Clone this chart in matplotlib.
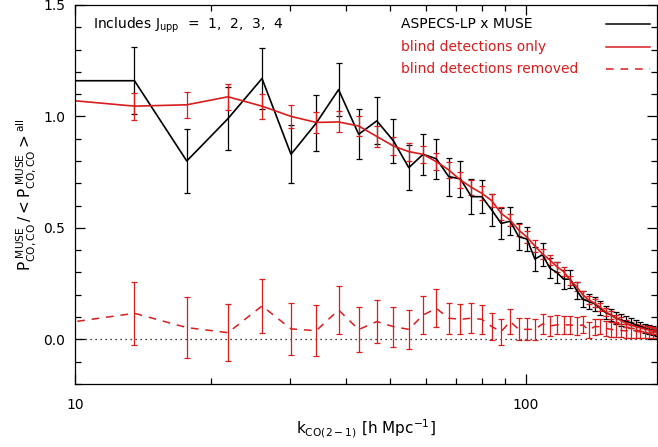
import numpy as np
import matplotlib
matplotlib.use("Agg")
import matplotlib.pyplot as plt
from matplotlib.ticker import FixedLocator, NullFormatter, MultipleLocator

plt.rcParams['font.family'] = ['DejaVu Sans']
plt.rcParams['mathtext.default'] = 'regular'

RED = '#d91c1c'

# wavenumber bins [h/Mpc]
k = [9.4, 13.55, 17.7, 21.85, 26.0, 30.15, 34.3, 38.45, 42.6, 46.75,
     50.9, 55.05, 59.2, 63.35, 67.5, 71.65, 75.8, 79.95, 84.1, 88.25,
     92.4, 96.55, 100.7, 104.85, 109.0, 113.15, 117.3, 121.45, 125.6, 129.75,
     133.9, 138.05, 142.2, 146.35, 150.5, 154.65, 158.8, 162.95, 167.1, 171.25,
     175.4, 179.55, 183.7, 187.85, 192.0, 196.15]

# ASPECS-LP x MUSE
p_all = [1.16, 1.16, 0.80, 0.99, 1.17, 0.83, 0.97, 1.12, 0.92, 0.98,
         0.89, 0.77, 0.83, 0.81, 0.73, 0.72, 0.64, 0.64, 0.58, 0.52,
         0.53, 0.46, 0.45, 0.36, 0.38, 0.32, 0.30, 0.27, 0.27, 0.22,
         0.18, 0.17, 0.16, 0.14, 0.12, 0.11, 0.095, 0.087, 0.08, 0.075,
         0.065, 0.057, 0.05, 0.045, 0.04, 0.035]
e_all = [0.15, 0.15, 0.145, 0.14, 0.135, 0.13, 0.125, 0.12, 0.112, 0.105,
         0.10, 0.10, 0.093, 0.09, 0.085, 0.082, 0.078, 0.075, 0.07, 0.068,
         0.063, 0.06, 0.055, 0.055, 0.05, 0.045, 0.045, 0.042, 0.04, 0.038,
         0.036, 0.034, 0.032, 0.03, 0.029, 0.028, 0.026, 0.025, 0.024, 0.023,
         0.022, 0.021, 0.02, 0.02, 0.019, 0.018]

# blind detections only
p_blind = [1.075, 1.046, 1.052, 1.088, 1.046, 1.0, 0.973, 0.975, 0.957, 0.91,
           0.867, 0.842, 0.83, 0.797, 0.76, 0.715, 0.682, 0.655, 0.622, 0.565,
           0.535, 0.49, 0.458, 0.419, 0.383, 0.356, 0.326, 0.304, 0.266, 0.236,
           0.20, 0.177, 0.162, 0.144, 0.124, 0.109, 0.095, 0.084, 0.072, 0.065,
           0.057, 0.052, 0.046, 0.042, 0.038, 0.035]
e_blind = [0.06, 0.06, 0.058, 0.058, 0.056, 0.05, 0.048, 0.047, 0.046, 0.045,
           0.042, 0.04, 0.039, 0.037, 0.036, 0.034, 0.033, 0.032, 0.03, 0.029,
           0.028, 0.027, 0.026, 0.025, 0.024, 0.023, 0.022, 0.021, 0.02, 0.02,
           0.019, 0.019, 0.018, 0.018, 0.017, 0.017, 0.016, 0.016, 0.015, 0.015,
           0.014, 0.014, 0.014, 0.013, 0.013, 0.013]

# blind detections removed
p_rem = [0.072, 0.117, 0.053, 0.03, 0.15, 0.047, 0.039, 0.132, 0.044, 0.08,
         0.057, 0.045, 0.109, 0.139, 0.095, 0.09, 0.095, 0.09, 0.057, 0.035,
         0.08, 0.045, 0.045, 0.045, 0.069, 0.06, 0.065, 0.065, 0.065, 0.06,
         0.065, 0.042, 0.057, 0.057, 0.05, 0.045, 0.042, 0.04, 0.038, 0.037,
         0.036, 0.035, 0.034, 0.033, 0.032, 0.03]
e_rem = [0.145, 0.142, 0.135, 0.128, 0.122, 0.118, 0.113, 0.107, 0.10, 0.095,
         0.09, 0.088, 0.085, 0.085, 0.07, 0.068, 0.066, 0.064, 0.06, 0.058,
         0.055, 0.05, 0.05, 0.048, 0.045, 0.044, 0.043, 0.042, 0.04, 0.039,
         0.038, 0.037, 0.036, 0.035, 0.034, 0.033, 0.032, 0.031, 0.03, 0.029,
         0.028, 0.027, 0.026, 0.025, 0.024, 0.023]

fig = plt.figure(figsize=(6.58, 4.47), dpi=100)
ax = fig.add_axes([0.114, 0.141, 0.885, 0.848])

ax.axhline(0, color='black', lw=0.9, ls=(0, (1, 3)))

ax.errorbar(k, p_all, yerr=e_all, color='black', lw=1.2, elinewidth=0.9,
            capsize=2.5, capthick=0.9)
ax.errorbar(k, p_blind, yerr=e_blind, color=RED, lw=1.2, elinewidth=0.9,
            capsize=2.5, capthick=0.9)
eb = ax.errorbar(k, p_rem, yerr=e_rem, color=RED, lw=1.1, elinewidth=0.9,
                 capsize=2.5, capthick=0.9)
eb[0].set_linestyle((0, (5, 4.5)))

ax.set_xscale('log')
ax.set_xlim(10, 196)
ax.set_ylim(-0.2, 1.5)
ax.xaxis.set_major_locator(FixedLocator([10, 100]))
ax.xaxis.set_minor_locator(FixedLocator([20, 30, 40, 50, 60, 70, 80, 90]))
ax.xaxis.set_minor_formatter(NullFormatter())
ax.set_xticklabels(['10', '100'])
ax.yaxis.set_major_locator(MultipleLocator(0.5))
ax.yaxis.set_minor_locator(MultipleLocator(0.1))
ax.set_yticks([0.0, 0.5, 1.0, 1.5])
ax.set_yticklabels(['0.0', '0.5', '1.0', '1.5'])
ax.tick_params(which='both', direction='in', top=True, right=True,
               labelsize=10, width=0.9)
ax.tick_params(which='major', length=7)
ax.tick_params(which='minor', length=4)
ax.tick_params(axis='x', pad=10)
ax.tick_params(axis='y', pad=7)
for s in ax.spines.values():
    s.set_linewidth(0.9)

ax.set_xlabel(r'$k_{CO(2-1)}$ [h Mpc$^{-1}$]', fontsize=11)
ax.set_ylabel(r'$P_{CO,CO}^{\ MUSE}\,/ <P_{CO,CO}^{\ MUSE}>^{all}$', fontsize=11)

ax.text(0.031, 0.947, r'Includes J$_{upp}$  =  1,  2,  3,  4', transform=ax.transAxes,
        fontsize=10, va='center', ha='left')

# legend drawn by hand: label on the left, line sample on the right
rows = [('ASPECS-LP x MUSE', 'black', '-'),
        ('blind detections only', RED, '-'),
        ('blind detections removed', RED, (0, (5, 4.5)))]
for i, (lab, c, ls) in enumerate(rows):
    yy = 0.950 - 0.060 * i
    ax.text(0.560, yy, lab, color=c, fontsize=10, va='center', ha='left',
            transform=ax.transAxes)
    ax.plot([0.911, 0.988], [yy, yy], color=c, ls=ls, lw=1.1,
            transform=ax.transAxes)

fig.savefig('out.png', dpi=100)
